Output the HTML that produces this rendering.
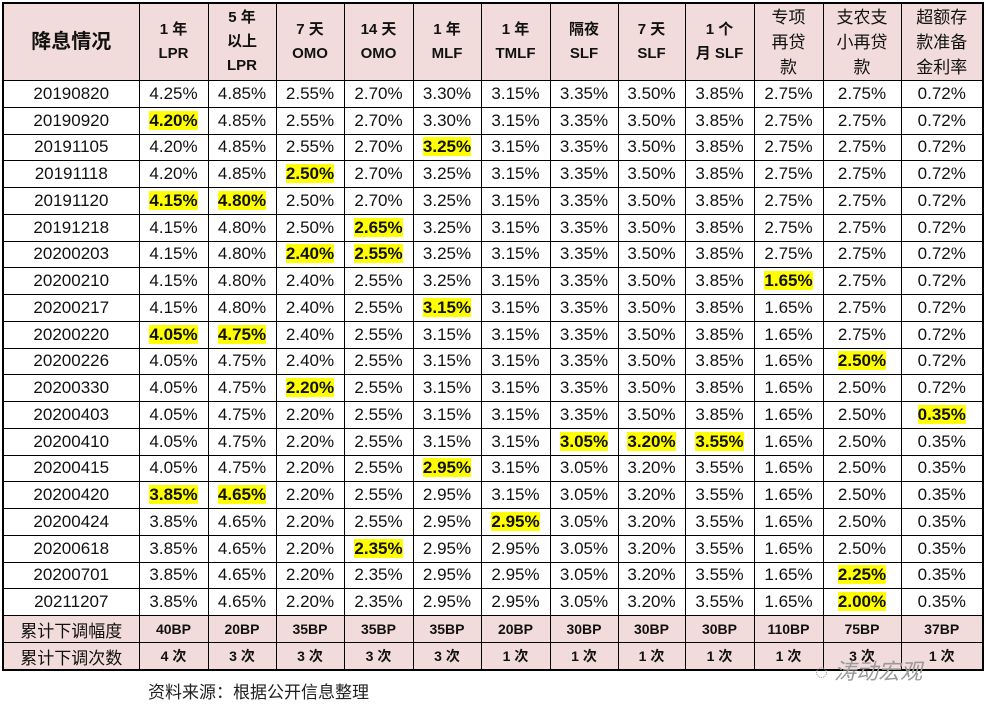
<!DOCTYPE html>
<html><head><meta charset="utf-8"><style>
body{margin:0;background:#fff;width:986px;height:713px;position:relative;overflow:hidden;font-family:"Liberation Sans","Noto Sans CJK SC",sans-serif;}
table{position:absolute;left:2px;top:2px;border-collapse:collapse;table-layout:fixed;border:2px solid #000;}
td{border:1px solid #000;text-align:center;padding:0;font-size:17px;height:25.75px;color:#111;white-space:nowrap;}
tr.h td{background:#f2dcdb;font-size:15px;font-weight:bold;height:76px;line-height:24px;}
tr.h td.c{font-weight:normal;font-size:17px;line-height:25px;}
tr.s td{background:#f2dcdb;font-size:14px;font-weight:bold;height:26px;}
tr.s td:first-child{font-size:17px;font-weight:normal;}
b{background:#ffff00;font-weight:bold;}
.src{position:absolute;left:148px;top:678px;font-size:17px;color:#222;}
.wm{position:absolute;left:815px;top:654px;font-size:22px;color:#999;font-style:italic;}
</style></head><body>
<table>
<colgroup><col style="width:136px"><col style="width:69px"><col style="width:68px"><col style="width:68px"><col style="width:69px"><col style="width:68px"><col style="width:69px"><col style="width:68px"><col style="width:67px"><col style="width:69px"><col style="width:69px"><col style="width:78px"><col style="width:82px"></colgroup>
<tr class="h"><td style="font-size:20px">降息情况</td><td>1 年<br>LPR</td><td>5 年<br>以上<br>LPR</td><td>7 天<br>OMO</td><td>14 天<br>OMO</td><td>1 年<br>MLF</td><td>1 年<br>TMLF</td><td>隔夜<br>SLF</td><td>7 天<br>SLF</td><td>1 个<br>月 SLF</td><td class="c">专项<br>再贷<br>款</td><td class="c">支农支<br>小再贷<br>款</td><td class="c">超额存<br>款准备<br>金利率</td></tr>
<tr><td>20190820</td><td>4.25%</td><td>4.85%</td><td>2.55%</td><td>2.70%</td><td>3.30%</td><td>3.15%</td><td>3.35%</td><td>3.50%</td><td>3.85%</td><td>2.75%</td><td>2.75%</td><td>0.72%</td></tr>
<tr><td>20190920</td><td><b>4.20%</b></td><td>4.85%</td><td>2.55%</td><td>2.70%</td><td>3.30%</td><td>3.15%</td><td>3.35%</td><td>3.50%</td><td>3.85%</td><td>2.75%</td><td>2.75%</td><td>0.72%</td></tr>
<tr><td>20191105</td><td>4.20%</td><td>4.85%</td><td>2.55%</td><td>2.70%</td><td><b>3.25%</b></td><td>3.15%</td><td>3.35%</td><td>3.50%</td><td>3.85%</td><td>2.75%</td><td>2.75%</td><td>0.72%</td></tr>
<tr><td>20191118</td><td>4.20%</td><td>4.85%</td><td><b>2.50%</b></td><td>2.70%</td><td>3.25%</td><td>3.15%</td><td>3.35%</td><td>3.50%</td><td>3.85%</td><td>2.75%</td><td>2.75%</td><td>0.72%</td></tr>
<tr><td>20191120</td><td><b>4.15%</b></td><td><b>4.80%</b></td><td>2.50%</td><td>2.70%</td><td>3.25%</td><td>3.15%</td><td>3.35%</td><td>3.50%</td><td>3.85%</td><td>2.75%</td><td>2.75%</td><td>0.72%</td></tr>
<tr><td>20191218</td><td>4.15%</td><td>4.80%</td><td>2.50%</td><td><b>2.65%</b></td><td>3.25%</td><td>3.15%</td><td>3.35%</td><td>3.50%</td><td>3.85%</td><td>2.75%</td><td>2.75%</td><td>0.72%</td></tr>
<tr><td>20200203</td><td>4.15%</td><td>4.80%</td><td><b>2.40%</b></td><td><b>2.55%</b></td><td>3.25%</td><td>3.15%</td><td>3.35%</td><td>3.50%</td><td>3.85%</td><td>2.75%</td><td>2.75%</td><td>0.72%</td></tr>
<tr><td>20200210</td><td>4.15%</td><td>4.80%</td><td>2.40%</td><td>2.55%</td><td>3.25%</td><td>3.15%</td><td>3.35%</td><td>3.50%</td><td>3.85%</td><td><b>1.65%</b></td><td>2.75%</td><td>0.72%</td></tr>
<tr><td>20200217</td><td>4.15%</td><td>4.80%</td><td>2.40%</td><td>2.55%</td><td><b>3.15%</b></td><td>3.15%</td><td>3.35%</td><td>3.50%</td><td>3.85%</td><td>1.65%</td><td>2.75%</td><td>0.72%</td></tr>
<tr><td>20200220</td><td><b>4.05%</b></td><td><b>4.75%</b></td><td>2.40%</td><td>2.55%</td><td>3.15%</td><td>3.15%</td><td>3.35%</td><td>3.50%</td><td>3.85%</td><td>1.65%</td><td>2.75%</td><td>0.72%</td></tr>
<tr><td>20200226</td><td>4.05%</td><td>4.75%</td><td>2.40%</td><td>2.55%</td><td>3.15%</td><td>3.15%</td><td>3.35%</td><td>3.50%</td><td>3.85%</td><td>1.65%</td><td><b>2.50%</b></td><td>0.72%</td></tr>
<tr><td>20200330</td><td>4.05%</td><td>4.75%</td><td><b>2.20%</b></td><td>2.55%</td><td>3.15%</td><td>3.15%</td><td>3.35%</td><td>3.50%</td><td>3.85%</td><td>1.65%</td><td>2.50%</td><td>0.72%</td></tr>
<tr><td>20200403</td><td>4.05%</td><td>4.75%</td><td>2.20%</td><td>2.55%</td><td>3.15%</td><td>3.15%</td><td>3.35%</td><td>3.50%</td><td>3.85%</td><td>1.65%</td><td>2.50%</td><td><b>0.35%</b></td></tr>
<tr><td>20200410</td><td>4.05%</td><td>4.75%</td><td>2.20%</td><td>2.55%</td><td>3.15%</td><td>3.15%</td><td><b>3.05%</b></td><td><b>3.20%</b></td><td><b>3.55%</b></td><td>1.65%</td><td>2.50%</td><td>0.35%</td></tr>
<tr><td>20200415</td><td>4.05%</td><td>4.75%</td><td>2.20%</td><td>2.55%</td><td><b>2.95%</b></td><td>3.15%</td><td>3.05%</td><td>3.20%</td><td>3.55%</td><td>1.65%</td><td>2.50%</td><td>0.35%</td></tr>
<tr><td>20200420</td><td><b>3.85%</b></td><td><b>4.65%</b></td><td>2.20%</td><td>2.55%</td><td>2.95%</td><td>3.15%</td><td>3.05%</td><td>3.20%</td><td>3.55%</td><td>1.65%</td><td>2.50%</td><td>0.35%</td></tr>
<tr><td>20200424</td><td>3.85%</td><td>4.65%</td><td>2.20%</td><td>2.55%</td><td>2.95%</td><td><b>2.95%</b></td><td>3.05%</td><td>3.20%</td><td>3.55%</td><td>1.65%</td><td>2.50%</td><td>0.35%</td></tr>
<tr><td>20200618</td><td>3.85%</td><td>4.65%</td><td>2.20%</td><td><b>2.35%</b></td><td>2.95%</td><td>2.95%</td><td>3.05%</td><td>3.20%</td><td>3.55%</td><td>1.65%</td><td>2.50%</td><td>0.35%</td></tr>
<tr><td>20200701</td><td>3.85%</td><td>4.65%</td><td>2.20%</td><td>2.35%</td><td>2.95%</td><td>2.95%</td><td>3.05%</td><td>3.20%</td><td>3.55%</td><td>1.65%</td><td><b>2.25%</b></td><td>0.35%</td></tr>
<tr><td>20211207</td><td>3.85%</td><td>4.65%</td><td>2.20%</td><td>2.35%</td><td>2.95%</td><td>2.95%</td><td>3.05%</td><td>3.20%</td><td>3.55%</td><td>1.65%</td><td><b>2.00%</b></td><td>0.35%</td></tr>
<tr class="s"><td>累计下调幅度</td><td>40BP</td><td>20BP</td><td>35BP</td><td>35BP</td><td>35BP</td><td>20BP</td><td>30BP</td><td>30BP</td><td>30BP</td><td>110BP</td><td>75BP</td><td>37BP</td></tr>
<tr class="s"><td>累计下调次数</td><td>4 次</td><td>3 次</td><td>3 次</td><td>3 次</td><td>3 次</td><td>1 次</td><td>1 次</td><td>1 次</td><td>1 次</td><td>1 次</td><td>3 次</td><td>1 次</td></tr>
</table>
<div class="src">资料来源：根据公开信息整理</div>
<div class="wm">◌ 涛动宏观</div>
</body></html>
